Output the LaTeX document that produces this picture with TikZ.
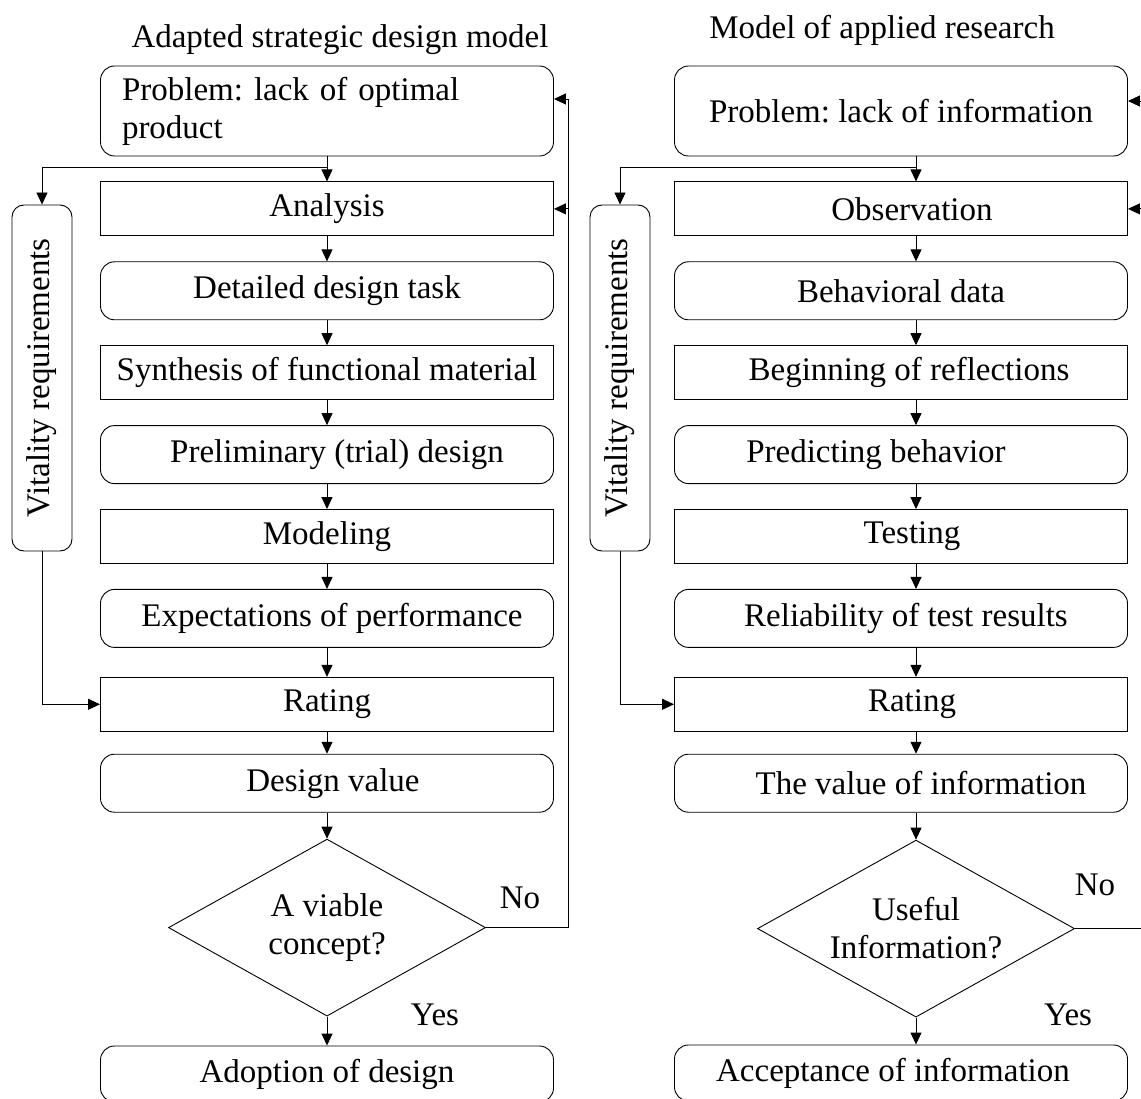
\documentclass[tikz,border=0pt]{standalone}
\usepackage{fontspec}
\setmainfont{Liberation Serif}
\usetikzlibrary{arrows.meta,positioning,shapes.geometric,calc}
\frenchspacing

\begin{document}
\begin{tikzpicture}[x=1pt, y=-1pt, font=\fontsize{33}{38}\selectfont, node distance=25pt, line width=0.9pt,
  box/.style={draw, rounded corners=14pt, minimum width=453pt, minimum height=58pt, inner sep=2pt, align=center},
  sqbox/.style={draw, minimum width=453pt, minimum height=54pt, inner sep=2pt, align=center},
  side/.style={draw, rounded corners=12pt, rotate=90, minimum width=346pt, minimum height=60pt, inner sep=0pt},
  ask/.style={draw, diamond, aspect=1.8, minimum width=317pt, minimum height=177pt, inner sep=0pt, align=center},
  >={Triangle[length=12pt, width=11pt]}]
\useasboundingbox (0,0) rectangle (1141,1099);

% left: adapted strategic design model
\node (ttlL) at (340,40) {Adapted strategic design model};
\node[box, minimum height=90pt, text width=410pt, align=left] (probL) at (327,111) {Problem: lack of optimal\\product};
\node[sqbox, below=of probL] (anaL) {Analysis};
\node[box, below=of anaL] (taskL) {Detailed design task};
\node[sqbox, below=of taskL] (synL) {Synthesis of functional material};
\node[box, below=of synL] (preL) {\hspace*{20pt}Preliminary (trial) design};
\node[sqbox, below=of preL] (modL) {Modeling};
\node[box, below=of modL] (expL) {\hspace*{10pt}Expectations of performance};
\node[sqbox, below=29pt of expL] (ratL) {Rating};
\node[box, below=22pt of ratL] (valL) {\hspace*{12pt}Design value};
\node[ask, below=26pt of valL] (askL) {A viable\\concept?};
\node[box, below=29pt of askL, minimum height=56pt] (adoL) {Adoption of design};
\node[side] (vitL) at (42,378) {Vitality requirements};
\node (noL) at (520,898) {No};
\node (yesL) at (435,1015) {Yes};

\draw (probL.south) -- ++(0,11) -| (vitL.east) [->];
\draw[->] (probL) -- (anaL);
\draw[->] (anaL) -- (taskL);
\draw[->] (taskL) -- (synL);
\draw[->] (synL) -- (preL);
\draw[->] (preL) -- (modL);
\draw[->] (modL) -- (expL);
\draw[->] (expL) -- (ratL);
\draw[->] (ratL) -- (valL);
\draw[->] (valL) -- (askL);
\draw[->] (askL) -- (adoL);
\draw[->] (vitL.west) |- (ratL.west);
\coordinate (fbL) at (568,0);
\coordinate (inL) at ($(probL.east)+(0,-12)$);
\draw (askL.east) -| (fbL |- inL);
\draw[->] (fbL |- inL) -- (inL);
\draw[->] (fbL |- anaL.east) -- (anaL.east);

% right: model of applied research
\node (ttlR) at (882,30) {Model of applied research};
\node[box, minimum height=90pt] (probR) at (901,111) {Problem: lack of information};
\node[sqbox, below=of probR] (obsR) {\hspace*{22pt}Observation};
\node[box, below=of obsR] (behR) {Behavioral data};
\node[sqbox, below=of behR] (refR) {\hspace*{16pt}Beginning of reflections};
\node[box, below=of refR] (preR) {Predicting behavior\hspace*{50pt}};
\node[sqbox, below=of preR] (tesR) {\hspace*{22pt}Testing};
\node[box, below=of tesR] (relR) {\hspace*{10pt}Reliability of test results};
\node[sqbox, below=29pt of relR] (ratR) {\hspace*{22pt}Rating};
\node[box, below=22pt of ratR] (valR) {\hspace*{40pt}The value of information};
\coordinate (axR) at (916,0);
\node[ask, anchor=north] (askR) at ($(axR |- valR.south)+(0,27)$) {Useful\\Information?};
\node[box, below=27pt of askR.south -| probR, minimum height=56pt] (accR) {Acceptance of information\hspace*{16pt}};
\node[side] (vitR) at (620,378) {Vitality requirements};
\node (noR) at (1095,885) {No};
\node (yesR) at (1068,1015) {Yes};

\draw (probR.south -| axR) -- ++(0,11) -| (vitR.east) [->];
\draw[->] (probR.south -| axR) -- (obsR.north -| axR);
\draw[->] (obsR.south -| axR) -- (behR.north -| axR);
\draw[->] (behR.south -| axR) -- (refR.north -| axR);
\draw[->] (refR.south -| axR) -- (preR.north -| axR);
\draw[->] (preR.south -| axR) -- (tesR.north -| axR);
\draw[->] (tesR.south -| axR) -- (relR.north -| axR);
\draw[->] (relR.south -| axR) -- (ratR.north -| axR);
\draw[->] (ratR.south -| axR) -- (valR.north -| axR);
\draw[->] (valR.south -| axR) -- (askR.north);
\draw[->] (askR.south) -- (accR.north -| axR);
\draw[->] (vitR.west) |- (ratR.west);
\coordinate (fbR) at (1141,0);
\draw (askR.east) -- (fbR |- askR.east);
\draw[->] ($(fbR |- probR.east)+(0,-10)$) -- ($(probR.east)+(0,-10)$);
\draw[->] (fbR |- obsR.east) -- (obsR.east);
\end{tikzpicture}
\end{document}
